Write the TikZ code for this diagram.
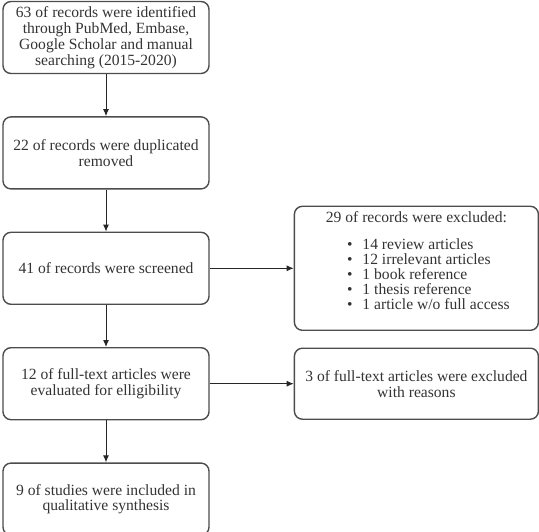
\documentclass[tikz,border=0pt]{standalone}
\usepackage{fontspec}
\setmainfont{Liberation Serif}
\usetikzlibrary{arrows.meta, positioning}

\begin{document}
\begin{tikzpicture}[
  x=1pt, y=1pt,
  box/.style={draw=black!70, line width=1.4pt, rounded corners=8pt, minimum width=206pt,
              minimum height=72pt, align=center, text=black!80, inner sep=2pt,
              font=\fontsize{15.6}{15.8}\selectfont},
  sidebox/.style={box, minimum width=244pt},
  arr/.style={-{Latex[length=7pt, width=6pt]}, line width=1pt, draw=black!85},
  node distance=42pt,
]
\useasboundingbox (0,0) rectangle (539,-532);

\node[box] (ident) at (106,-37.5)
  {63 of records were identified\\through PubMed, Embase,\\Google Scholar and manual\\searching (2015-2020)};
\node[box, below=of ident]  (dupl)   {22 of records were duplicated\\removed};
\node[box, below=of dupl]   (screen) {41 of records were screened};
\node[box, below=of screen] (elig)   {12 of full-text articles were\\evaluated for elligibility};
\node[box, below=of elig]   (incl)   {9 of studies were included in\\qualitative synthesis};

\node[sidebox, minimum height=124pt, right=84pt of screen] (excl)
  {29 of records were excluded:\\[15pt]
   \hspace*{24pt}\renewcommand{\arraystretch}{0.9}%
   \begin{tabular}{@{}c@{\hspace{10pt}}l@{}}
   \textbullet & 14 review articles\\
   \textbullet & 12 irrelevant articles\\
   \textbullet & 1 book reference\\
   \textbullet & 1 thesis reference\\
   \textbullet & 1 article w/o full access\\[-3pt]
   &
   \end{tabular}};
\node[sidebox, minimum height=71pt, right=84pt of elig] (fullex)
  {3 of full-text articles were excluded\\with reasons};

\draw[arr] (ident) -- (dupl);
\draw[arr] (dupl) -- (screen);
\draw[arr] (screen) -- (elig);
\draw[arr] (elig) -- (incl);
\draw[arr] (screen) -- (excl);
\draw[arr] (elig) -- (fullex);

\end{tikzpicture}
\end{document}
